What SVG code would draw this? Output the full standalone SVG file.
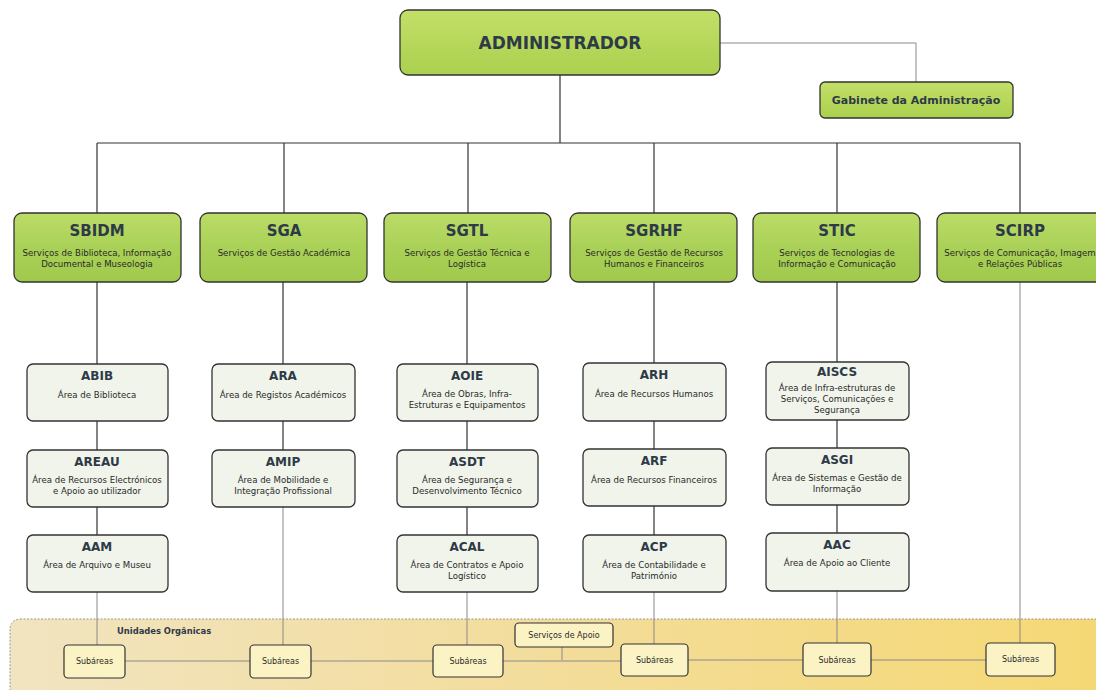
<svg xmlns="http://www.w3.org/2000/svg" width="1096" height="690" viewBox="0 0 1096 690">
<defs>
<linearGradient id="gGreen" x1="0" y1="0" x2="0" y2="1">
<stop offset="0" stop-color="#bcdc68"/>
<stop offset="0.5" stop-color="#aad157"/>
<stop offset="1" stop-color="#a0c94c"/>
</linearGradient>
<linearGradient id="gAdmin" x1="0" y1="0" x2="0" y2="1">
<stop offset="0" stop-color="#c3df68"/>
<stop offset="1" stop-color="#abd04e"/>
</linearGradient>
<linearGradient id="gBand" x1="0" y1="0" x2="1" y2="0">
<stop offset="0" stop-color="#f1e4c0"/>
<stop offset="0.45" stop-color="#f3dd9e"/>
<stop offset="1" stop-color="#f5d874"/>
</linearGradient>
<style>
.green{fill:url(#gGreen);stroke:#333;stroke-width:1.3}
.area{fill:#f0f4ea;stroke:#333;stroke-width:1.3}
.sub{fill:#fbf3c4;stroke:#333;stroke-width:1.2}
.t{font-family:"DejaVu Sans",Verdana,sans-serif;text-anchor:middle;fill:#2e3a48}
.title{font-weight:bold;font-size:15px}
.atitle{font-weight:bold;font-size:12px}
.desc{font-size:8.6px;fill:#2a2a2a}
.small{font-size:8px;fill:#2a2a2a}
.main{stroke:#333;stroke-width:1.2;fill:none}
.thin{stroke:#8a8a8a;stroke-width:1;fill:none}
</style>
</defs>
<rect width="1096" height="690" fill="#ffffff"/>

<g id="band">
<rect x="10" y="619" width="1100" height="85" rx="10" fill="url(#gBand)" stroke="#9a9a8a" stroke-width="1" stroke-dasharray="2,1.5"/>
<text class="t" x="117" y="634" style="font-weight:bold;font-size:8.4px;text-anchor:start">Unidades Orgânicas</text>
</g>

<g id="connectors">
<path class="thin" d="M720 43 H916 V82"/>
<path class="main" d="M560 75 V143 M97 143 H1020 M97 143 V213 M284 143 V213 M468 143 V213 M654 143 V213 M837 143 V213 M1020 143 V213"/>
<path class="main" d="M97 282 V364 M97 421 V450 M97 507 V535 M283 282 V364 M283 421 V450 M467 282 V364 M467 421 V450 M467 507 V535 M654 282 V364 M654 421 V449 M654 506 V535 M837 282 V362 M837 420 V448 M837 505 V533"/>
<path class="thin" d="M97 592 V645 M283 507 V645 M467 592 V645 M654 592 V645 M837 591 V645 M1020 282 V643"/>
<path class="thin" d="M124 661 H250 M311 661 H433 M503 661 H621 M688 660 H803 M871 660 H986 M562 647 V660"/>
</g>

<g id="admin">
<rect x="400" y="10" width="320" height="65" rx="8" fill="url(#gAdmin)" stroke="#333" stroke-width="1.3"/>
<text class="t" x="560" y="49" style="font-weight:bold;font-size:17px">ADMINISTRADOR</text>
</g>
<g id="gabinete">
<rect x="820" y="82" width="193" height="36" rx="5" fill="url(#gAdmin)" stroke="#333" stroke-width="1.3"/>
<text class="t" x="916" y="104" style="font-weight:bold;font-size:11px">Gabinete da Administração</text>
</g>

<g id="SBIDM" transform="translate(97,213)">
<rect class="green" x="-83" y="0" width="167" height="69" rx="8"/>
<text class="t title" x="0" y="23">SBIDM</text>
<text class="t desc" x="0" y="43">Serviços de Biblioteca, Informação</text>
<text class="t desc" x="0" y="54">Documental e Museologia</text>
</g>
<g id="SGA" transform="translate(284,213)">
<rect class="green" x="-84" y="0" width="167" height="69" rx="8"/>
<text class="t title" x="0" y="23">SGA</text>
<text class="t desc" x="0" y="43">Serviços de Gestão Académica</text>
</g>
<g id="SGTL" transform="translate(467,213)">
<rect class="green" x="-83" y="0" width="167" height="69" rx="8"/>
<text class="t title" x="0" y="23">SGTL</text>
<text class="t desc" x="0" y="43">Serviços de Gestão Técnica e</text>
<text class="t desc" x="0" y="54">Logística</text>
</g>
<g id="SGRHF" transform="translate(654,213)">
<rect class="green" x="-84" y="0" width="167" height="69" rx="8"/>
<text class="t title" x="0" y="23">SGRHF</text>
<text class="t desc" x="0" y="43">Serviços de Gestão de Recursos</text>
<text class="t desc" x="0" y="54">Humanos e Financeiros</text>
</g>
<g id="STIC" transform="translate(837,213)">
<rect class="green" x="-84" y="0" width="167" height="69" rx="8"/>
<text class="t title" x="0" y="23">STIC</text>
<text class="t desc" x="0" y="43">Serviços de Tecnologias de</text>
<text class="t desc" x="0" y="54">Informação e Comunicação</text>
</g>
<g id="SCIRP" transform="translate(1020,213)">
<rect class="green" x="-83" y="0" width="180" height="69" rx="8"/>
<text class="t title" x="0" y="23">SCIRP</text>
<text class="t desc" x="0" y="43">Serviços de Comunicação, Imagem</text>
<text class="t desc" x="0" y="54">e Relações Públicas</text>
</g>

<g id="ABIB" transform="translate(97,364)">
<rect class="area" x="-70" y="0" width="141" height="57" rx="6"/>
<text class="t atitle" x="0" y="16">ABIB</text>
<text class="t desc" x="0" y="34">Área de Biblioteca</text>
</g>
<g id="AREAU" transform="translate(97,450)">
<rect class="area" x="-70" y="0" width="141" height="57" rx="6"/>
<text class="t atitle" x="0" y="16">AREAU</text>
<text class="t desc" x="0" y="33">Área de Recursos Electrónicos</text>
<text class="t desc" x="0" y="44">e Apoio ao utilizador</text>
</g>
<g id="AAM" transform="translate(97,535)">
<rect class="area" x="-70" y="0" width="141" height="57" rx="6"/>
<text class="t atitle" x="0" y="16">AAM</text>
<text class="t desc" x="0" y="33">Área de Arquivo e Museu</text>
</g>

<g id="ARA" transform="translate(283,364)">
<rect class="area" x="-71" y="0" width="143" height="57" rx="6"/>
<text class="t atitle" x="0" y="16">ARA</text>
<text class="t desc" x="0" y="34">Área de Registos Académicos</text>
</g>
<g id="AMIP" transform="translate(283,450)">
<rect class="area" x="-71" y="0" width="143" height="57" rx="6"/>
<text class="t atitle" x="0" y="16">AMIP</text>
<text class="t desc" x="0" y="33">Área de Mobilidade e</text>
<text class="t desc" x="0" y="44">Integração Profissional</text>
</g>

<g id="AOIE" transform="translate(467,364)">
<rect class="area" x="-70" y="0" width="141" height="57" rx="6"/>
<text class="t atitle" x="0" y="16">AOIE</text>
<text class="t desc" x="0" y="33">Área de Obras, Infra-</text>
<text class="t desc" x="0" y="44">Estruturas e Equipamentos</text>
</g>
<g id="ASDT" transform="translate(467,450)">
<rect class="area" x="-70" y="0" width="141" height="57" rx="6"/>
<text class="t atitle" x="0" y="16">ASDT</text>
<text class="t desc" x="0" y="33">Área de Segurança e</text>
<text class="t desc" x="0" y="44">Desenvolvimento Técnico</text>
</g>
<g id="ACAL" transform="translate(467,535)">
<rect class="area" x="-70" y="0" width="141" height="57" rx="6"/>
<text class="t atitle" x="0" y="16">ACAL</text>
<text class="t desc" x="0" y="33">Área de Contratos e Apoio</text>
<text class="t desc" x="0" y="44">Logístico</text>
</g>

<g id="ARH" transform="translate(654,363)">
<rect class="area" x="-71" y="0" width="143" height="58" rx="6"/>
<text class="t atitle" x="0" y="16">ARH</text>
<text class="t desc" x="0" y="34">Área de Recursos Humanos</text>
</g>
<g id="ARF" transform="translate(654,449)">
<rect class="area" x="-71" y="0" width="143" height="57" rx="6"/>
<text class="t atitle" x="0" y="16">ARF</text>
<text class="t desc" x="0" y="34">Área de Recursos Financeiros</text>
</g>
<g id="ACP" transform="translate(654,535)">
<rect class="area" x="-71" y="0" width="143" height="57" rx="6"/>
<text class="t atitle" x="0" y="16">ACP</text>
<text class="t desc" x="0" y="33">Área de Contabilidade e</text>
<text class="t desc" x="0" y="44">Património</text>
</g>

<g id="AISCS" transform="translate(837,362)">
<rect class="area" x="-71" y="0" width="143" height="58" rx="6"/>
<text class="t atitle" x="0" y="14">AISCS</text>
<text class="t desc" x="0" y="29">Área de Infra-estruturas de</text>
<text class="t desc" x="0" y="40">Serviços, Comunicações e</text>
<text class="t desc" x="0" y="51">Segurança</text>
</g>
<g id="ASGI" transform="translate(837,448)">
<rect class="area" x="-71" y="0" width="143" height="57" rx="6"/>
<text class="t atitle" x="0" y="16">ASGI</text>
<text class="t desc" x="0" y="33">Área de Sistemas e Gestão de</text>
<text class="t desc" x="0" y="44">Informação</text>
</g>
<g id="AAC" transform="translate(837,533)">
<rect class="area" x="-71" y="0" width="143" height="58" rx="6"/>
<text class="t atitle" x="0" y="16">AAC</text>
<text class="t desc" x="0" y="33">Área de Apoio ao Cliente</text>
</g>

<g id="apoio">
<rect class="sub" x="515" y="623" width="98" height="24" rx="4"/>
<text class="t small" x="564" y="638">Serviços de Apoio</text>
</g>
<g id="sub1"><rect class="sub" x="64" y="645" width="61" height="33" rx="4"/><text class="t small" x="94.5" y="664">Subáreas</text></g>
<g id="sub2"><rect class="sub" x="250" y="645" width="61" height="33" rx="4"/><text class="t small" x="280.5" y="664">Subáreas</text></g>
<g id="sub3"><rect class="sub" x="433" y="645" width="70" height="32" rx="4"/><text class="t small" x="468" y="664">Subáreas</text></g>
<g id="sub4"><rect class="sub" x="621" y="644" width="67" height="32" rx="4"/><text class="t small" x="654.5" y="663">Subáreas</text></g>
<g id="sub5"><rect class="sub" x="803" y="643" width="68" height="33" rx="4"/><text class="t small" x="837" y="663">Subáreas</text></g>
<g id="sub6"><rect class="sub" x="986" y="643" width="69" height="33" rx="4"/><text class="t small" x="1020.5" y="662">Subáreas</text></g>
</svg>
